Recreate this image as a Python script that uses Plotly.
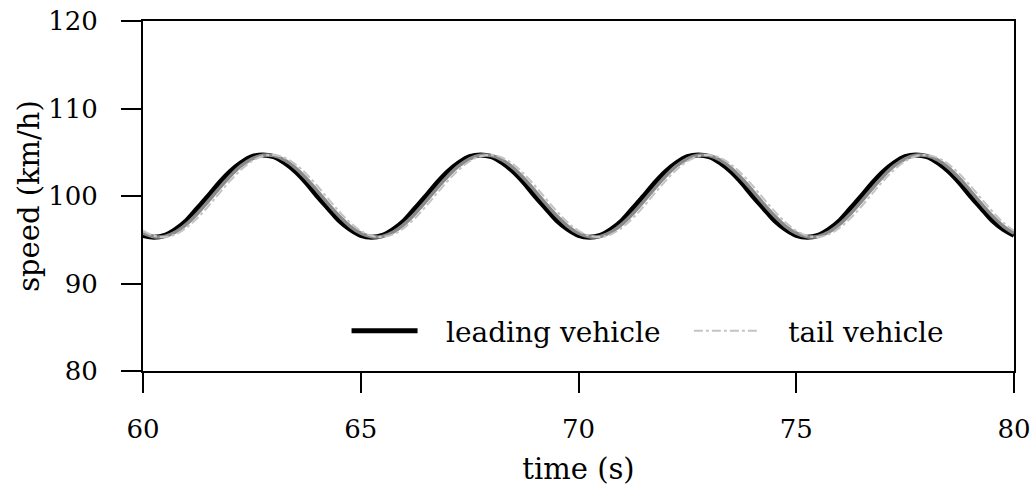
import plotly.graph_objects as go

# time samples (s)
time_s = [60 + 0.25 * i for i in range(81)]

# leading vehicle speed (km/h)
leading = [
    95.5, 95.3, 95.5, 96.2, 97.2, 98.6, 100.0, 101.5, 102.8, 103.8, 104.5, 104.7, 104.5, 103.8, 102.8, 101.5, 100.0, 98.6, 97.2, 96.2,
    95.5, 95.3, 95.5, 96.2, 97.2, 98.6, 100.0, 101.5, 102.8, 103.8, 104.5, 104.7, 104.5, 103.8, 102.8, 101.5, 100.0, 98.6, 97.2, 96.2,
    95.5, 95.3, 95.5, 96.2, 97.2, 98.6, 100.0, 101.5, 102.8, 103.8, 104.5, 104.7, 104.5, 103.8, 102.8, 101.5, 100.0, 98.6, 97.2, 96.2,
    95.5, 95.3, 95.5, 96.2, 97.2, 98.6, 100.0, 101.5, 102.8, 103.8, 104.5, 104.7, 104.5, 103.8, 102.8, 101.5, 100.0, 98.6, 97.2, 96.2,
    95.5,
]

# intermediate vehicle speed (km/h), gray, not in legend
middle = [
    95.75, 95.34, 95.38, 95.88, 96.78, 98.00, 99.41, 100.88, 102.26, 103.43, 104.25, 104.66, 104.62, 104.12, 103.22, 102.00, 100.59, 99.12, 97.74, 96.57,
    95.75, 95.34, 95.38, 95.88, 96.78, 98.00, 99.41, 100.88, 102.26, 103.43, 104.25, 104.66, 104.62, 104.12, 103.22, 102.00, 100.59, 99.12, 97.74, 96.57,
    95.75, 95.34, 95.38, 95.88, 96.78, 98.00, 99.41, 100.88, 102.26, 103.43, 104.25, 104.66, 104.62, 104.12, 103.22, 102.00, 100.59, 99.12, 97.74, 96.57,
    95.75, 95.34, 95.38, 95.88, 96.78, 98.00, 99.41, 100.88, 102.26, 103.43, 104.25, 104.66, 104.62, 104.12, 103.22, 102.00, 100.59, 99.12, 97.74, 96.57,
    95.75,
]

# tail vehicle speed (km/h)
tail = [
    96.03, 95.45, 95.31, 95.63, 96.38, 97.48, 98.83, 100.30, 101.73, 102.99, 103.97, 104.55, 104.69, 104.37, 103.62, 102.52, 101.17, 99.70, 98.27, 96.99,
    96.03, 95.45, 95.31, 95.63, 96.38, 97.48, 98.83, 100.30, 101.73, 102.99, 103.97, 104.55, 104.69, 104.37, 103.62, 102.52, 101.17, 99.70, 98.27, 96.99,
    96.03, 95.45, 95.31, 95.63, 96.38, 97.48, 98.83, 100.30, 101.73, 102.99, 103.97, 104.55, 104.69, 104.37, 103.62, 102.52, 101.17, 99.70, 98.27, 96.99,
    96.03, 95.45, 95.31, 95.63, 96.38, 97.48, 98.83, 100.30, 101.73, 102.99, 103.97, 104.55, 104.69, 104.37, 103.62, 102.52, 101.17, 99.70, 98.27, 96.99,
    96.03,
]

x_ticks = [60, 65, 70, 75, 80]
y_ticks = [80, 90, 100, 110, 120]

FONT = "DejaVu Serif"
TICK_SIZE = 26
LEGEND_SIZE = 28
TITLE_SIZE = 29
GAP = "\u00a0\u00a0\u2009"

fig = go.Figure()
fig.add_trace(go.Scatter(
    x=time_s, y=leading, mode="lines", name=GAP + "leading vehicle" + GAP,
    line=dict(color="black", width=5, shape="spline"),
))
fig.add_trace(go.Scatter(
    x=time_s, y=middle, mode="lines", name="vehicle", showlegend=False,
    line=dict(color="#8a8a8a", width=3.5, shape="spline"),
))
fig.add_trace(go.Scatter(
    x=time_s, y=tail, mode="lines", name=GAP + "tail vehicle",
    line=dict(color="#c4c4c4", width=2, dash="dashdot", shape="spline"),
))

fig.update_layout(
    width=1035, height=492,
    margin=dict(l=143, r=21, t=21, b=121, autoexpand=False),
    paper_bgcolor="white", plot_bgcolor="white",
    font=dict(family=FONT, size=TICK_SIZE, color="black"),
    showlegend=True,
    legend=dict(
        orientation="h", x=0.926, y=0.114, xanchor="right", yanchor="middle",
        bgcolor="rgba(0,0,0,0)", font=dict(family=FONT, size=LEGEND_SIZE),
        itemwidth=66, traceorder="normal",
    ),
)
fig.update_xaxes(
    range=[60, 80], tickvals=x_ticks, ticktext=[str(v) for v in x_ticks],
    ticks="outside", ticklen=20, tickwidth=1.5, tickcolor="black",
    showline=True, linecolor="black", linewidth=2, mirror=True,
    showgrid=False, zeroline=False, ticklabelstandoff=14, automargin=False,
    ticklabeloverflow="allow",
    title=dict(text="time (s)", standoff=15, font=dict(family=FONT, size=TITLE_SIZE)),
)
fig.update_yaxes(
    range=[80, 120], tickvals=y_ticks, ticktext=[str(v) for v in y_ticks],
    ticks="outside", ticklen=20, tickwidth=1.5, tickcolor="black",
    showline=True, linecolor="black", linewidth=2, mirror=True,
    showgrid=False, zeroline=False, ticklabelstandoff=18, automargin=False,
    ticklabeloverflow="allow",
    title=dict(text="speed (km/h)", standoff=0, font=dict(family=FONT, size=TITLE_SIZE)),
)

# remove the default 8px page margin so the figure fills the window exactly
fig.write_html(
    "out.html",
    config={"displayModeBar": False},
    post_script="document.body.style.margin='0px';",
)
